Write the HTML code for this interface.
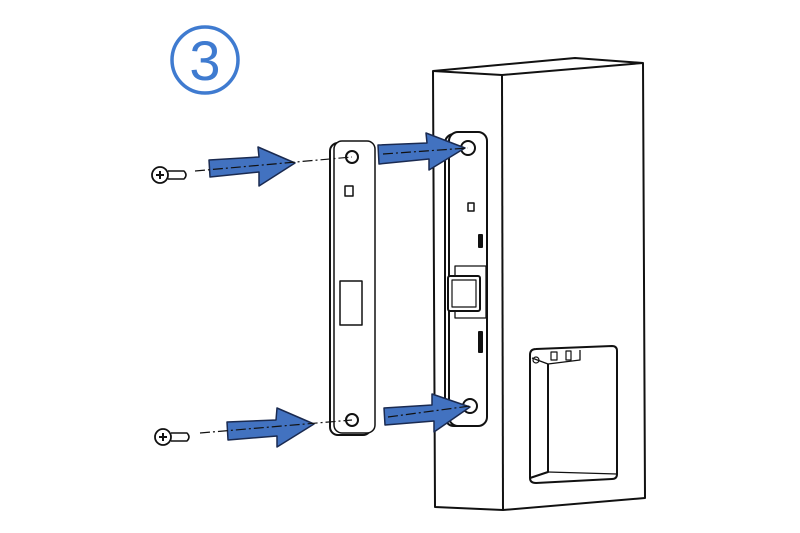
<!DOCTYPE html>
<html><head><meta charset="utf-8"><style>html,body{margin:0;padding:0;background:#fff}svg{display:block}</style></head>
<body>
<svg width="800" height="533" viewBox="0 0 800 533" xmlns="http://www.w3.org/2000/svg">
<rect width="800" height="533" fill="#fff"/>
<circle cx="205" cy="60" r="33" fill="none" stroke="#3f7bd0" stroke-width="3.5"/>
<text x="205" y="80" font-family="Liberation Sans, sans-serif" font-size="56" fill="#3f7bd0" text-anchor="middle">3</text>
<g fill="none" stroke="#111" stroke-width="2" stroke-linejoin="round">
<!-- box -->
<path d="M433 71 L575 58 L643 63 L502 75 Z"/>
<path d="M433 71 L435 507 L503 510 L645 498 L643 63"/>
<path d="M502 75 L503 510"/>
<!-- window -->
<path d="M530 355 Q530 349 536 349 L612 346 Q617 346 617 351 L617 474 Q617 479 612 479 L536 483 Q530 483 530 478 Z"/>
<path d="M548 364 L548 472 L530 478"/>
<path d="M548 472 L617 474" stroke-width="1.3"/>
<path d="M532 358 L548 364 L580 360 L580 350" stroke-width="1.3"/>
<rect x="551" y="352" width="6" height="8" stroke-width="1.2"/>
<rect x="566" y="351" width="5" height="9" stroke-width="1.2"/>
<circle cx="536" cy="360" r="3" stroke-width="1.2"/>
<!-- strike on box -->
<rect x="445" y="134" width="38" height="292" rx="9" />
<rect x="449" y="132" width="38" height="294" rx="9" fill="#fff"/>
<circle cx="468" cy="148" r="7"/>
<circle cx="470" cy="406" r="7"/>
<rect x="455" y="266" width="31" height="52" stroke-width="1.3"/>
<rect x="448" y="276" width="32" height="35" rx="2" fill="#fff"/>
<rect x="452" y="280" width="24" height="27" stroke-width="1.2"/>
<rect x="468" y="203" width="6" height="8" stroke-width="1.5"/>
<rect x="479" y="235" width="3" height="12" fill="#111"/>
<rect x="479" y="332" width="3" height="20" fill="#111"/>
<!-- loose plate -->
<rect x="330" y="143" width="41" height="292" rx="8" fill="#fff"/>
<rect x="334" y="141" width="41" height="292" rx="8" fill="#fff" stroke-width="1.5"/>
<circle cx="352" cy="157" r="6"/>
<circle cx="352" cy="420" r="6"/>
<rect x="340" y="281" width="22" height="44" stroke-width="1.5"/>
<rect x="345" y="186" width="8" height="10" stroke-width="1.5"/>
<!-- screws -->
<circle cx="160" cy="175" r="8" stroke-width="1.8"/>
<path d="M168 171 L184 171 Q188 175 184 179 L168 179" stroke-width="1.5"/>
<path d="M156 175 L164 175 M160 171 L160 179" stroke-width="2"/>
<circle cx="163" cy="437" r="8" stroke-width="1.8"/>
<path d="M171 433 L187 433 Q191 437 187 441 L171 441" stroke-width="1.5"/>
<path d="M159 437 L167 437 M163 433 L163 441" stroke-width="2"/>
</g>
<!-- arrows -->
<g fill="#4272c0" stroke="#1a2a50" stroke-width="1.5" stroke-linejoin="round">
<path d="M209 160 L259 157 L258 147 L295 163 L259 186 L259 172 L210 177 Z"/>
<path d="M378 145 L427 143 L426 133 L465 148 L429 170 L429 159 L379 164 Z"/>
<path d="M227 422 L276 420 L277 408 L314 424 L277 447 L277 436 L228 440 Z"/>
<path d="M384 408 L432 405 L432 394 L470 407 L434 432 L434 421 L385 425 Z"/>
</g>
<g fill="none" stroke="#111" stroke-width="1.2" stroke-dasharray="10 3 2 3">
<path d="M195 171 L352 157"/>
<path d="M383 154 L468 148"/>
<path d="M200 433 L352 420"/>
<path d="M388 417 L470 406"/>
</g>
</svg>
</body></html>
